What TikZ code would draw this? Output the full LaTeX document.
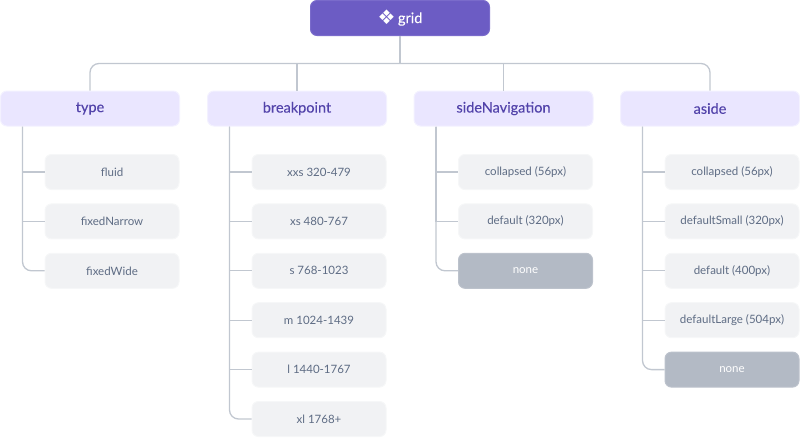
\documentclass[tikz,border=0pt]{standalone}
\usepackage{fontspec}
\setmainfont{Lato}
\newfontfamily\iconfont{DejaVu Sans}
\usetikzlibrary{positioning}

\definecolor{rootFill}{HTML}{6C5CC4}
\definecolor{rootLine}{HTML}{7A6BCB}
\definecolor{groupFill}{HTML}{EAE6FF}
\definecolor{groupLine}{HTML}{F3F1FF}
\definecolor{groupText}{HTML}{5243AA}
\definecolor{optionFill}{HTML}{F1F2F4}
\definecolor{optionLine}{HTML}{F6F7F8}
\definecolor{optionText}{HTML}{5E6C84}
\definecolor{noneFill}{HTML}{B3BAC5}
\definecolor{noneLine}{HTML}{BCC2CC}
\definecolor{linkLine}{HTML}{C1C7D0}

\tikzset{
  box/.style={rectangle, rounded corners=6.5pt, line width=1pt, minimum height=35pt, inner sep=0pt},
  rootBox/.style={box, draw=rootLine, fill=rootFill, text=white, minimum width=179pt, font=\fontsize{14.5}{17}\selectfont\addfontfeature{FakeBold=0.15}},
  groupBox/.style={box, draw=groupLine, fill=groupFill, text=groupText, minimum width=179pt, font=\fontsize{14.5}{17}\selectfont\addfontfeature{FakeBold=0.15}},
  optionBox/.style={box, draw=optionLine, fill=optionFill, text=optionText, minimum width=134pt, font=\fontsize{11.5}{14}\selectfont},
  noneBox/.style={box, draw=noneLine, fill=noneFill, text=white, minimum width=134pt, font=\fontsize{11.5}{14}\selectfont},
  link/.style={draw=linkLine, line width=1.3pt},
  lastLink/.style={link, rounded corners=9pt},
  node distance=13.4pt
}

\begin{document}
\begin{tikzpicture}[x=1pt, y=-1pt]
    \useasboundingbox (0,0) rectangle (800,437);

    \node[rootBox] (grid) at (400,18) {\raisebox{-1.8pt}{\iconfont\fontsize{20}{20}\selectfont ❖}\,grid};
    \coordinate (bus) at (400,63.5);

    \node[groupBox] (type) at (90,108.5) {type};
    \node[groupBox] (breakpoint) at (297,108.5) {breakpoint};
    \node[groupBox] (sideNavigation) at (503.5,108.5) {sideNavigation};
    \node[groupBox] (aside) at (710,108.5) {aside};

    % type
    \node[optionBox, anchor=north east] (fluid) at (179.5,154) {fluid};
    \node[optionBox, below=of fluid] (fixedNarrow) {fixedNarrow};
    \node[optionBox, below=of fixedNarrow] (fixedWide) {fixedWide};

    % breakpoint
    \node[optionBox, anchor=north east] (xxs) at (386.5,154) {xxs 320-479};
    \node[optionBox, below=of xxs] (xs) {xs 480-767};
    \node[optionBox, below=of xs] (s) {s 768-1023};
    \node[optionBox, below=of s] (m) {m 1024-1439};
    \node[optionBox, below=of m] (l) {l 1440-1767};
    \node[optionBox, below=of l] (xl) {xl 1768+};

    % sideNavigation
    \node[optionBox, anchor=north east] (navCollapsed) at (593,154) {collapsed (56px)};
    \node[optionBox, below=of navCollapsed] (navDefault) {default (320px)};
    \node[noneBox, below=of navDefault] (navNone) {none};

    % aside
    \node[optionBox, anchor=north east] (asideCollapsed) at (799.5,154) {collapsed (56px)};
    \node[optionBox, below=of asideCollapsed] (asideSmall) {defaultSmall (320px)};
    \node[optionBox, below=of asideSmall] (asideDefault) {default (400px)};
    \node[optionBox, below=of asideDefault] (asideLarge) {defaultLarge (504px)};
    \node[noneBox, below=of asideLarge] (asideNone) {none};

    \draw[link] (grid) -- (bus);
    \draw[lastLink] (type) |- (bus) -| (aside);
    \draw[link] (breakpoint) -- (breakpoint |- bus);
    \draw[link] (sideNavigation) -- (sideNavigation |- bus);

    \draw[link] ([xshift=22.5pt]type.south west) |- (fluid.west);
    \draw[link] ([xshift=22.5pt]type.south west) |- (fixedNarrow.west);
    \draw[lastLink] ([xshift=22.5pt]type.south west) |- (fixedWide.west);

    \draw[link] ([xshift=22.5pt]breakpoint.south west) |- (xxs.west);
    \draw[link] ([xshift=22.5pt]breakpoint.south west) |- (xs.west);
    \draw[link] ([xshift=22.5pt]breakpoint.south west) |- (s.west);
    \draw[link] ([xshift=22.5pt]breakpoint.south west) |- (m.west);
    \draw[link] ([xshift=22.5pt]breakpoint.south west) |- (l.west);
    \draw[lastLink] ([xshift=22.5pt]breakpoint.south west) |- (xl.west);

    \draw[link] ([xshift=22.5pt]sideNavigation.south west) |- (navCollapsed.west);
    \draw[link] ([xshift=22.5pt]sideNavigation.south west) |- (navDefault.west);
    \draw[lastLink] ([xshift=22.5pt]sideNavigation.south west) |- (navNone.west);

    \draw[link] ([xshift=22.5pt]aside.south west) |- (asideCollapsed.west);
    \draw[link] ([xshift=22.5pt]aside.south west) |- (asideSmall.west);
    \draw[link] ([xshift=22.5pt]aside.south west) |- (asideDefault.west);
    \draw[link] ([xshift=22.5pt]aside.south west) |- (asideLarge.west);
    \draw[lastLink] ([xshift=22.5pt]aside.south west) |- (asideNone.west);
\end{tikzpicture}
\end{document}
